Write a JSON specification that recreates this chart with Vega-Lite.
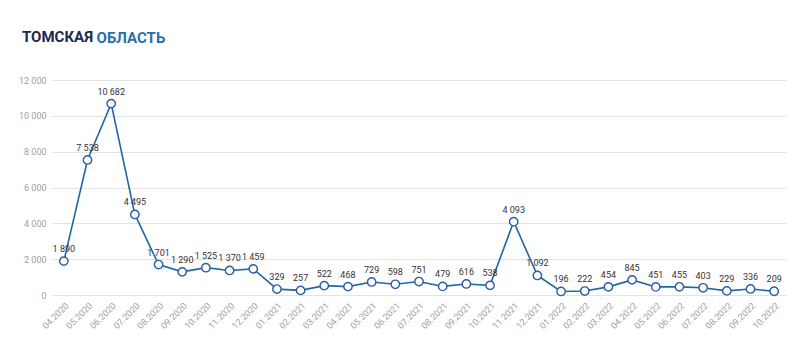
{
  "$schema": "https://vega.github.io/schema/vega-lite/v6.json",
  "autosize": {"type": "none"},
  "width": 734,
  "height": 215,
  "padding": {"left": 52, "top": 80, "right": 14, "bottom": 62},
  "background": "#ffffff",
  "title": {
    "text": "ТОМСКАЯ",
    "subtitle": "\u200b\u00a0\u00a0\u00a0\u00a0\u00a0\u00a0\u00a0\u00a0\u00a0\u00a0\u00a0\u00a0\u00a0\u00a0\u00a0\u00a0\u00a0\u00a0\u00a0\u00a0ОБЛАСТЬ",
    "anchor": "start",
    "frame": "group",
    "dx": -30,
    "offset": 30,
    "font": "Roboto",
    "fontSize": 15,
    "fontWeight": "bold",
    "color": "#1b2a4a",
    "subtitleFont": "Roboto",
    "subtitleFontSize": 15,
    "subtitleFontWeight": "bold",
    "subtitleColor": "#2d6da8",
    "subtitlePadding": -14
  },
  "config": {
    "locale": {"number": {"decimal": ",", "thousands": "\u00a0", "grouping": [3], "currency": ["", ""]}},
    "font": "Roboto",
    "view": {"stroke": null}
  },
  "data": {
    "values": [
      {"month": "04.2020", "value": 1890},
      {"month": "05.2020", "value": 7538},
      {"month": "06.2020", "value": 10682},
      {"month": "07.2020", "value": 4495},
      {"month": "08.2020", "value": 1701},
      {"month": "09.2020", "value": 1290},
      {"month": "10.2020", "value": 1525},
      {"month": "11.2020", "value": 1370},
      {"month": "12.2020", "value": 1459},
      {"month": "01.2021", "value": 329},
      {"month": "02.2021", "value": 257},
      {"month": "03.2021", "value": 522},
      {"month": "04.2021", "value": 468},
      {"month": "05.2021", "value": 729},
      {"month": "06.2021", "value": 598},
      {"month": "07.2021", "value": 751},
      {"month": "08.2021", "value": 479},
      {"month": "09.2021", "value": 616},
      {"month": "10.2021", "value": 538},
      {"month": "11.2021", "value": 4093},
      {"month": "12.2021", "value": 1092},
      {"month": "01.2022", "value": 196},
      {"month": "02.2022", "value": 222},
      {"month": "03.2022", "value": 454},
      {"month": "04.2022", "value": 845},
      {"month": "05.2022", "value": 451},
      {"month": "06.2022", "value": 455},
      {"month": "07.2022", "value": 403},
      {"month": "08.2022", "value": 229},
      {"month": "09.2022", "value": 336},
      {"month": "10.2022", "value": 209}
    ]
  },
  "encoding": {
    "x": {
      "field": "month",
      "type": "ordinal",
      "sort": null,
      "scale": {"type": "point", "padding": 0.5},
      "axis": {
        "title": null,
        "labelAngle": -45,
        "labelFontSize": 9,
        "labelColor": "#a0a0a0",
        "labelPadding": 6,
        "ticks": false,
        "domain": false,
        "grid": false
      }
    },
    "y": {
      "field": "value",
      "type": "quantitative",
      "scale": {"domain": [0, 12000], "nice": false},
      "axis": {
        "title": null,
        "values": [0, 2000, 4000, 6000, 8000, 10000, 12000],
        "format": ",d",
        "labelFontSize": 9,
        "labelColor": "#a0a0a0",
        "labelPadding": 6,
        "ticks": false,
        "domain": false,
        "gridColor": "#e3e3e3",
        "gridWidth": 1
      }
    }
  },
  "layer": [
    {"mark": {"type": "line", "color": "#1f67a6", "strokeWidth": 1.6}},
    {"mark": {"type": "point", "filled": true, "fill": "#ffffff", "stroke": "#2a5ea6", "strokeWidth": 1.4, "size": 70, "opacity": 1}},
    {
      "mark": {"type": "text", "dy": -12, "fontSize": 9, "color": "#333333"},
      "encoding": {"text": {"field": "value", "type": "quantitative", "format": ",d"}}
    }
  ]
}
